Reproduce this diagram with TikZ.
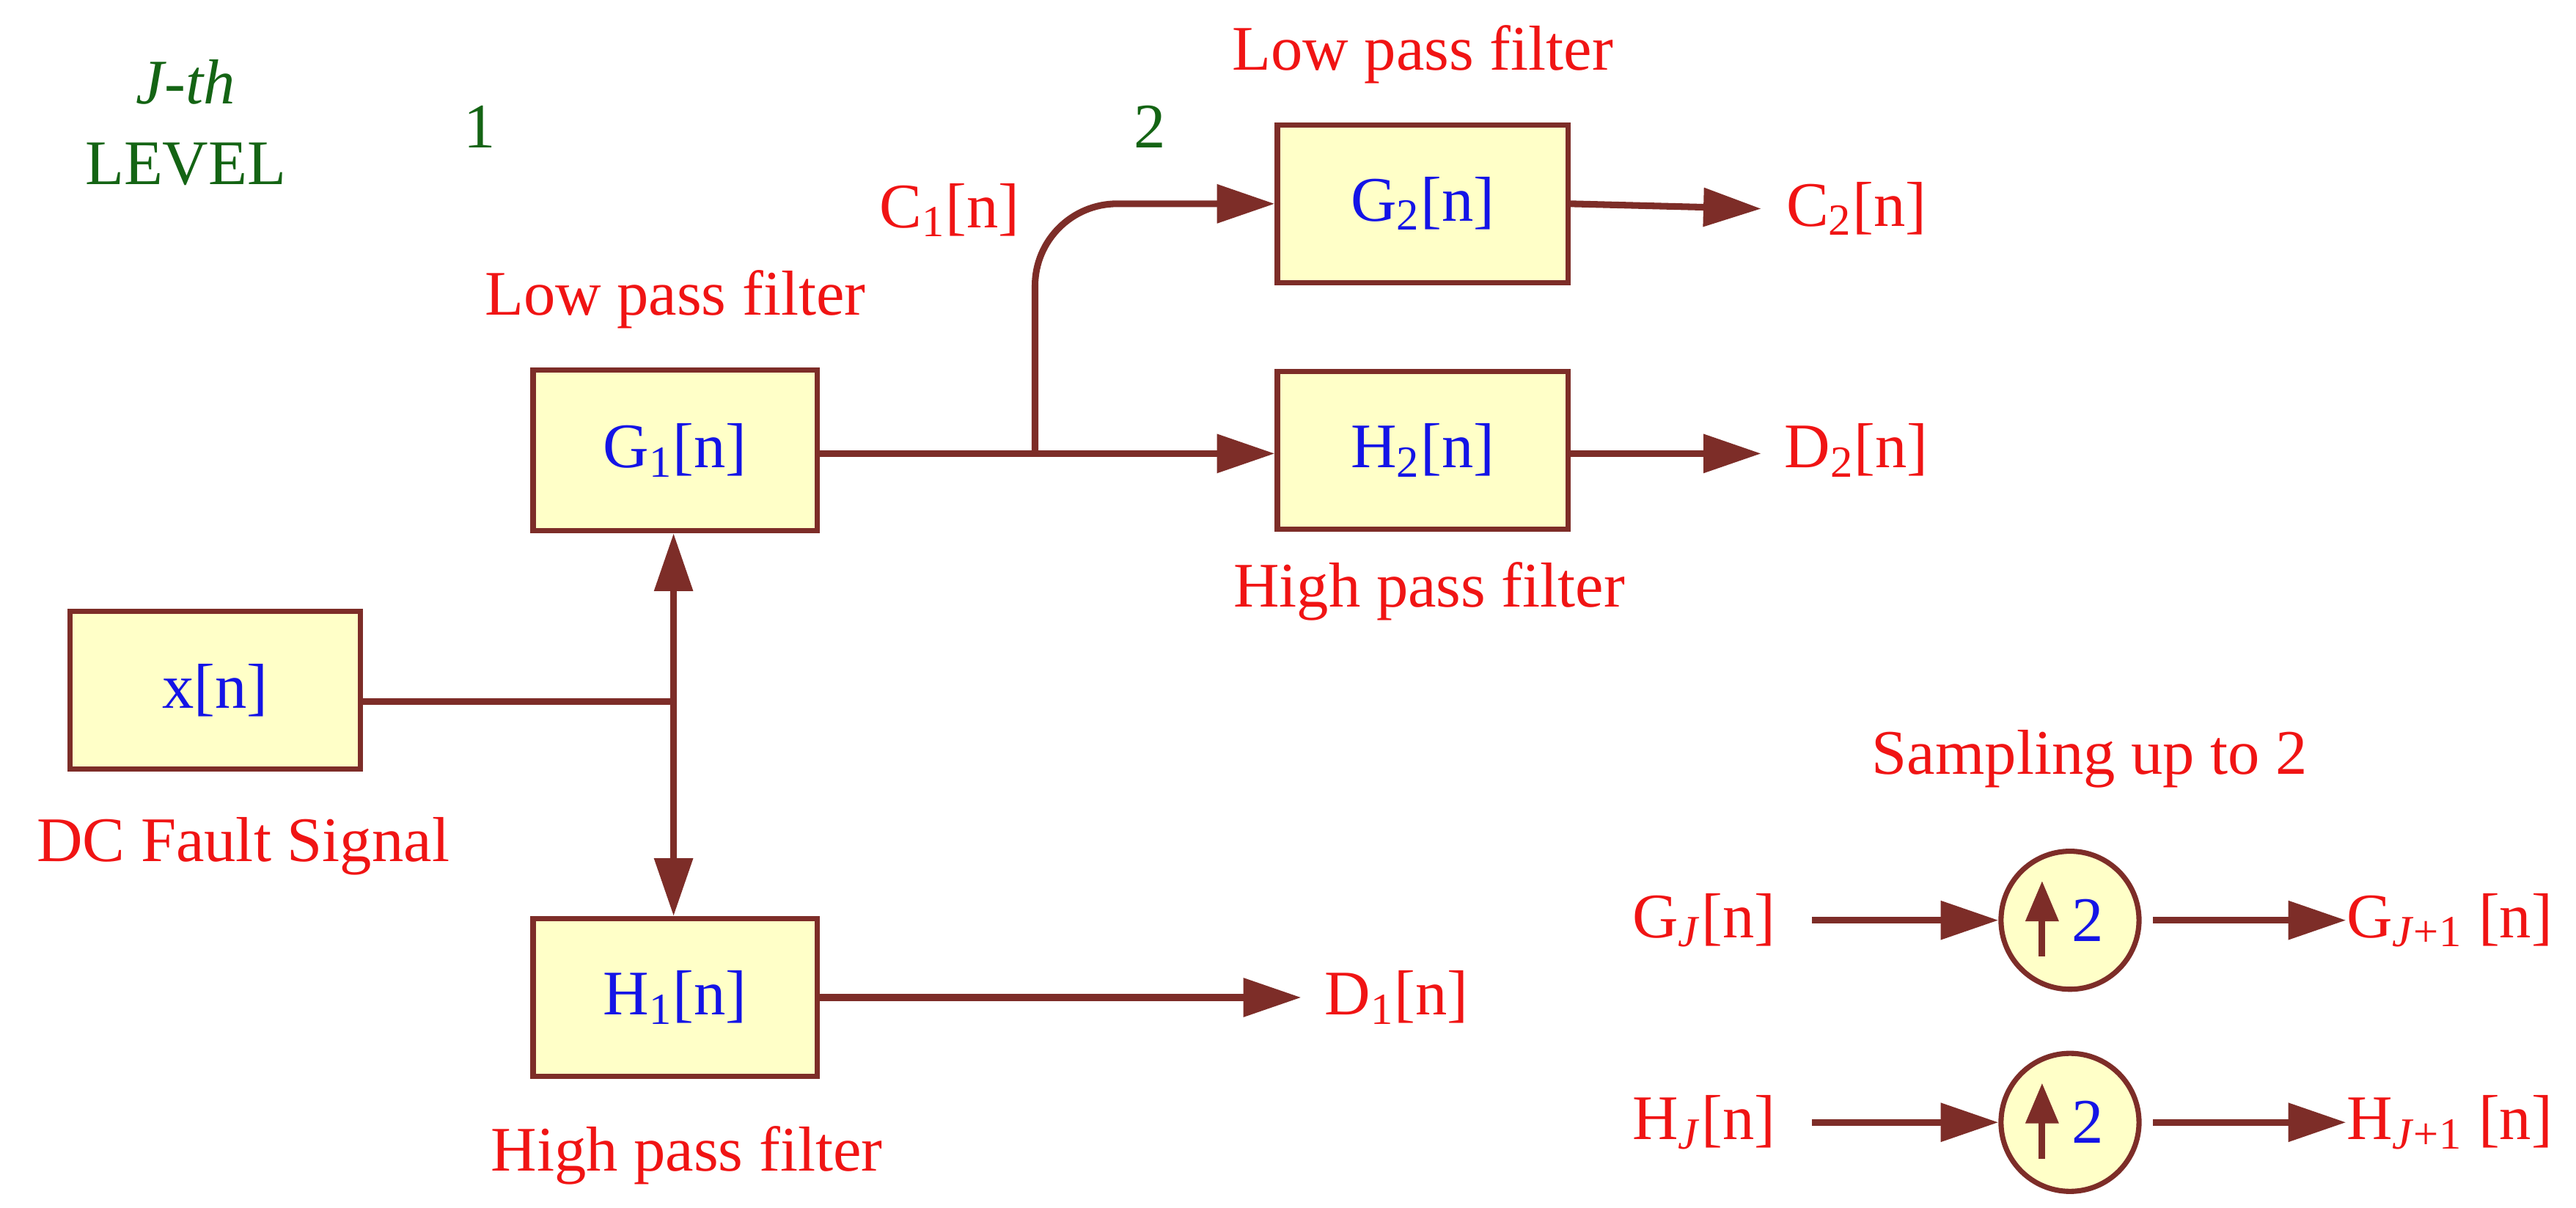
\documentclass[tikz,border=0pt]{standalone}
\usepackage{fontspec}
\setmainfont{Liberation Serif}
\usetikzlibrary{arrows.meta}
\definecolor{brn}{RGB}{125,45,40}
\definecolor{fillY}{RGB}{255,255,200}
\definecolor{rd}{RGB}{240,20,20}
\definecolor{bl}{RGB}{20,20,230}
\definecolor{gr}{RGB}{20,100,20}
\tikzset{
 box/.style={draw=brn,line width=1.8pt,fill=fillY,minimum width=177*0.02cm,minimum height=96*0.02cm,text=bl,font=\fontsize{22}{26}\selectfont},
 lab/.style={text=rd,font=\fontsize{22}{26}\selectfont,inner sep=0},
 glab/.style={text=gr,font=\fontsize{22}{26}\selectfont,inner sep=0},
 con/.style={draw=brn,line width=2.3pt},
 arr/.style={con,-{Triangle[length=20pt,width=13pt]}},
 arr2/.style={con,{Triangle[length=20pt,width=13pt]}-{Triangle[length=20pt,width=13pt]}},
 samp/.style={circle,draw=brn,line width=1.8pt,fill=fillY,minimum size=84*0.02cm,inner sep=0},
}
\begin{document}
\begin{tikzpicture}[x=0.02cm,y=-0.02cm]
\useasboundingbox[fill=white] (0,0) rectangle (1568,735);
\node[box] (x) at (131,420) {x[n]};
\node[box,minimum width=173*0.02cm,minimum height=98*0.02cm] (g1) at (411,274) {G\textsubscript{1}[n]};
\node[box,minimum width=173*0.02cm] (h1) at (411,607) {H\textsubscript{1}[n]};
\node[box] (g2) at (866,124) {G\textsubscript{2}[n]};
\node[box] (h2) at (866,274) {H\textsubscript{2}[n]};
\coordinate (j1) at (410,427);
\coordinate (j2) at (630,276);
\draw[con] (x.east |- j1) -- (j1);
\draw[arr2] (g1.south -| j1) -- (h1.north -| j1);
\draw[arr] (g1.east |- j2) -- (h2.west |- j2);
\draw[arr,rounded corners=1cm] (j2) -- (630,124) -- (g2.west);
\node[lab] (c2) at (1130,127) {C\textsubscript{2}[n]};
\node[lab] (d2) at (1130,274) {D\textsubscript{2}[n]};
\node[lab] (d1) at (850,607) {D\textsubscript{1}[n]};
\draw[arr] (g2.east) -- (1072,127);
\draw[arr] (h2.east |- 0,276) -- (1072,276);
\draw[arr] (h1.east) -- (792,607);
\node[lab] (lp1) at (411,182) {Low pass filter};
\node[lab] (hp1) at (418,703) {High pass filter};
\node[lab] (dc) at (148,515) {DC Fault Signal};
\node[lab] (c1) at (578,128) {C\textsubscript{1}[n]};
\node[lab] (lp2) at (866,33) {Low pass filter};
\node[lab] (hp2) at (870,360) {High pass filter};
\node[glab] (jth) at (113,50) {\textit{J-th}};
\node[glab] (lev) at (113,100) {LEVEL};
\node[glab] (one) at (292,77) {1};
\node[glab] (two) at (700,77) {2};
\node[lab] (smp) at (1272,462) {Sampling up to 2};
\foreach \yy/\nm/\L in {560/g/G,683/h/H}{
 \node[samp] (\nm c) at (1260,\yy) {};
 \draw[con,-{Triangle[length=14pt,width=11pt]}] (1243,\yy+22) -- (1243,\yy-24);
 \node[text=bl,font=\fontsize{22}{26}\selectfont,inner sep=0] (\nm two) at (1271,\yy) {2};
 \node[lab,anchor=east] (\nm in) at (1081,\yy) {\L\textsubscript{\textit{J}}[n]};
 \node[lab,anchor=west] (\nm out) at (1428,\yy) {\L\textsubscript{\textit{J}+1} [n]};
 \draw[arr] (1103,\yy) -- (\nm c.west);
 \draw[arr] (\nm c.east) ++(7,0) -- (\nm out.west);
}
\end{tikzpicture}
\end{document}
